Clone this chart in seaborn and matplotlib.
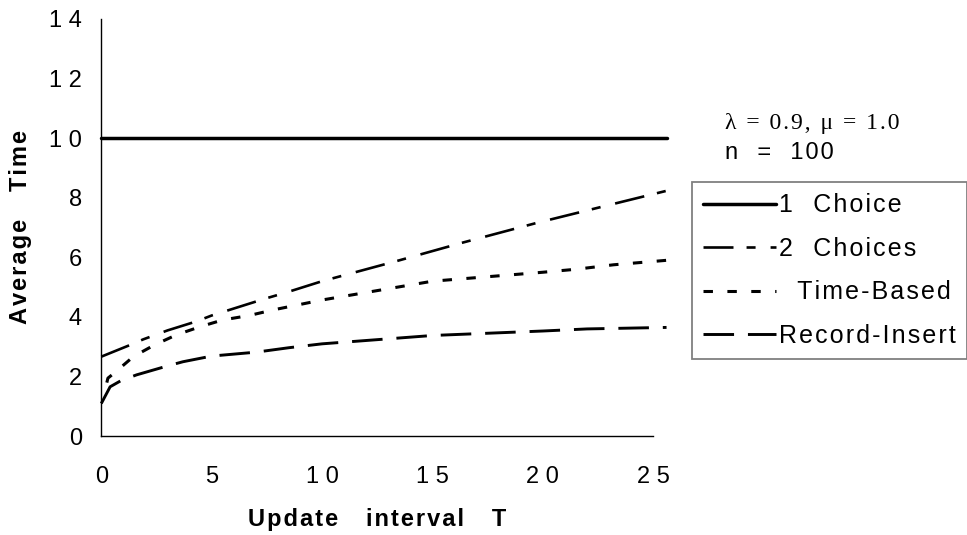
import matplotlib
matplotlib.use("Agg")
import matplotlib.pyplot as plt
import pandas as pd
import seaborn as sns

# Average time versus update interval T for each assignment policy
one_choice_t = [0, 25.6]
one_choice = [10.0, 10.0]

two_choices_t = [0, 1.3, 1.9, 3.0, 4.3, 5.0, 6.2, 7.4, 8.5, 10.0, 13.5, 16.4, 19.7, 22.7, 25.6]
two_choices = [2.67, 3.06, 3.25, 3.55, 3.85, 4.05, 4.33, 4.61, 4.85, 5.2, 5.9, 6.5, 7.15, 7.7, 8.23]

time_based_t = [0.25, 0.3, 0.6, 1.45, 2.4, 3.4, 4.5, 5.5, 6.7, 7.8, 10.0, 15.0, 20.0, 21.5, 23.2, 25.6]
time_based = [1.8, 1.95, 2.13, 2.67, 3.06, 3.4, 3.68, 3.9, 4.05, 4.24, 4.57, 5.2, 5.5, 5.6, 5.75, 5.9]

record_insert_t = [0, 0.4, 0.9, 1.6, 3.0, 3.7, 5.0, 7.0, 8.5, 10.0, 15.0, 20.0, 22.0, 25.6]
record_insert = [1.1, 1.66, 1.87, 2.06, 2.36, 2.5, 2.69, 2.82, 2.97, 3.1, 3.38, 3.53, 3.6, 3.65]

series_names = ["1  Choice", "2  Choices", "  Time-Based", "Record-Insert"]
x_ticks = [0, 5, 10, 15, 20, 25]
x_tick_labels = ["0", "5", "1 0", "1 5", "2 0", "2 5"]
y_ticks = [0, 2, 4, 6, 8, 10, 12, 14]
y_tick_labels = ["0", "2", "4", "6", "8", "1 0", "1 2", "1 4"]


def tracked(text):
    """Widen letter spacing by putting a hair space between characters."""
    return "\u200a".join(text)


sns.set_theme(style="white")
plt.rcParams["font.family"] = ["Liberation Sans", "DejaVu Sans"]
plt.rcParams["lines.scale_dashes"] = False

W, H = 967, 535
fig = plt.figure(figsize=(W / 100, H / 100), dpi=100)
fig.patch.set_facecolor("white")

x0, x1 = 101.3, 653.3
y0, y1 = 436.3, 18.7
ax = fig.add_axes([x0 / W, 1 - y0 / H, (x1 - x0) / W, (y0 - y1) / H])
ax.set_facecolor("white")

styles = [
    dict(lw=2.5, ls="-"),
    dict(lw=1.9, ls=(0, (21.6, 9.4, 6.5, 10.8))),
    dict(lw=2.2, ls=(0, (6.8, 10.4))),
    dict(lw=2.1, ls=(0, (22.0, 10.0))),
]
data = [
    (one_choice_t, one_choice),
    (two_choices_t, two_choices),
    (time_based_t, time_based),
    (record_insert_t, record_insert),
]

handles = []
for name, (t, v), st in zip(series_names, data, styles):
    df = pd.DataFrame({"T": t, "time": v})
    sns.lineplot(data=df, x="T", y="time", ax=ax, color="black",
                 linewidth=st["lw"], linestyle=st["ls"], label=name.strip(),
                 clip_on=False, legend=False)
    handles.append(ax.lines[-1])

ax.set_xlim(0, 25)
ax.set_ylim(0, 14)
for side in ["top", "right"]:
    ax.spines[side].set_visible(False)
for side in ["left", "bottom"]:
    ax.spines[side].set_color("black")
    ax.spines[side].set_linewidth(1.0)

ax.set_xticks(x_ticks)
ax.set_xticklabels(x_tick_labels)
ax.set_yticks(y_ticks)
ax.set_yticklabels(y_tick_labels)
ax.tick_params(axis="both", direction="inout", length=12, width=1.0,
               color="black", labelsize=17, labelcolor="black")
ax.tick_params(axis="x", pad=15.5)
ax.tick_params(axis="y", pad=8)

ax.set_xlabel(tracked("Update   interval   T"), fontsize=17, fontweight="bold",
              labelpad=14, color="black")
ax.set_ylabel(tracked("Average   Time"), fontsize=17, fontweight="bold",
              labelpad=12, color="black")

leg = ax.legend(handles, [tracked(s) for s in series_names], loc="upper left",
                bbox_to_anchor=(692 / W, 1 - 182 / H),
                bbox_transform=fig.transFigure, borderaxespad=0,
                frameon=True, fancybox=False, framealpha=1,
                edgecolor="#808080", fontsize=18, handlelength=2.9,
                handletextpad=0.12, labelspacing=0.78, borderpad=0.45)
leg.get_frame().set_linewidth(1.3)
for txt in leg.get_texts():
    txt.set_color("black")

fig.text(725 / W, 1 - 124 / H, tracked("λ = 0.9, μ = 1.0"), fontsize=17,
         family=["Liberation Serif", "DejaVu Serif"], va="center", ha="left",
         color="black")
fig.text(725 / W, 1 - 153 / H, tracked("n  =  100"), fontsize=17, va="center",
         ha="left", color="black")

fig.savefig("out.png", dpi=100, facecolor="white")
